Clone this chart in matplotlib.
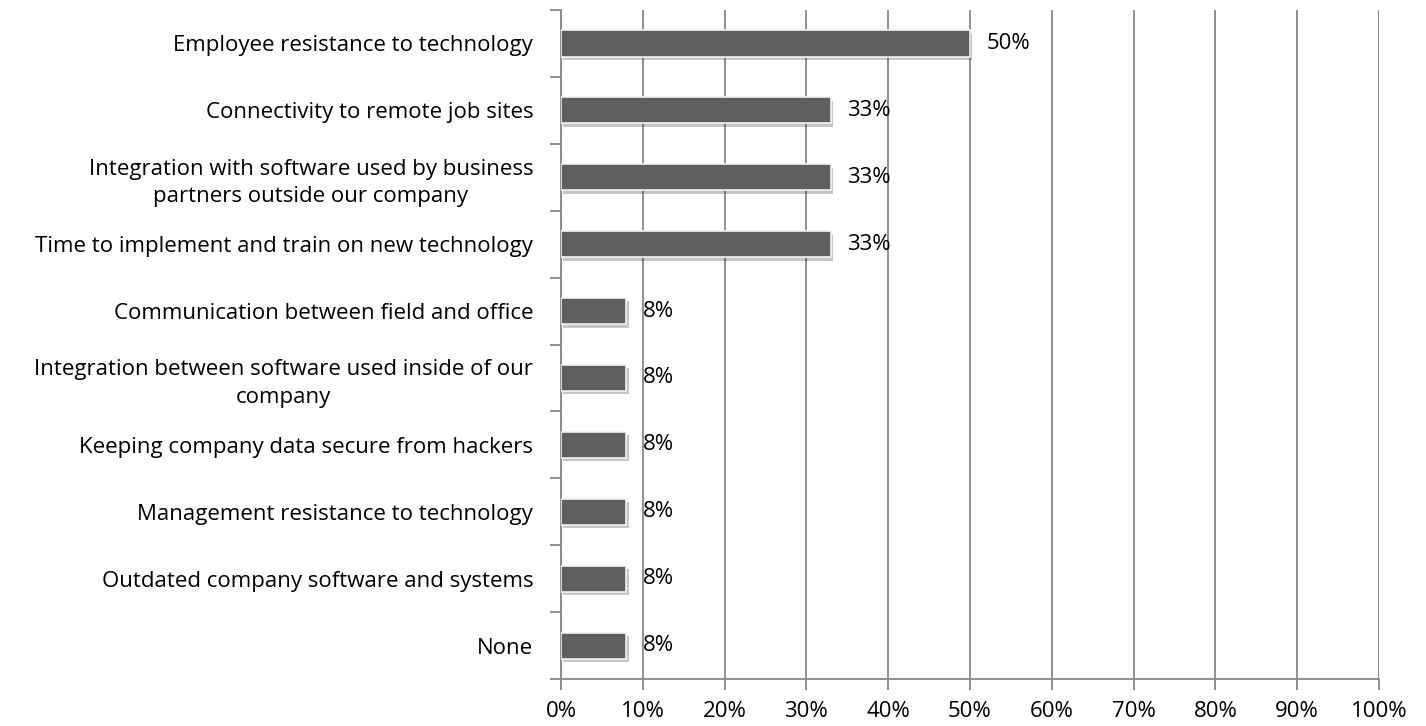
import numpy as np
import matplotlib.pyplot as plt
import matplotlib.patheffects as pe
from matplotlib.ticker import MultipleLocator, PercentFormatter

# 数据
categories = [
    "Employee resistance to technology",
    "Connectivity to remote job sites",
    "Integration with software used by business\npartners outside our company",
    "Time to implement and train on new technology",
    "Communication between field and office",
    "Integration between software used inside of our\ncompany",
    "Keeping company data secure from hackers",
    "Management resistance to technology",
    "Outdated company software and systems",
    "None",
]
values = [0.50, 0.33, 0.33, 0.33, 0.08, 0.08, 0.08, 0.08, 0.08, 0.08]
value_labels = ["50%", "33%", "33%", "33%", "8%", "8%", "8%", "8%", "8%", "8%"]

plt.rcParams['font.family'] = ['Open Sans', 'DejaVu Sans']
FS = 16

fig = plt.figure(figsize=(14.26, 7.26), dpi=100)
ax = fig.add_axes([0.3934, 0.0647, 0.5736, 0.9215])

y = np.arange(len(categories))
bars = ax.barh(y, values, height=0.39, color='#5f5f5f', edgecolor='#f2f2f2',
               linewidth=1.2, zorder=3)
for b in bars:
    b.set_path_effects([pe.SimplePatchShadow(offset=(1.5, -2.5), alpha=0.25),
                        pe.Normal()])

for yi, v, lab in zip(y, values, value_labels):
    ax.text(v + 0.02, yi, lab, va='center', ha='left', fontsize=FS,
            color='black', zorder=4)

ax.set_xlim(0, 1.0)
ax.set_ylim(len(categories) - 0.5, -0.5)
ax.xaxis.set_major_locator(MultipleLocator(0.1))
ax.xaxis.set_major_formatter(PercentFormatter(1.0, decimals=0))

ax.set_yticks(y)
ax.set_yticklabels(categories)
for lbl in ax.get_yticklabels():
    lbl.set_multialignment('center')
    lbl.set_linespacing(1.4)
ax.set_yticks(np.arange(-0.5, len(categories), 1.0), minor=True)

ax.tick_params(axis='y', which='major', length=0, pad=20, labelsize=FS)
ax.tick_params(axis='y', which='minor', length=8, width=1.3, color='#878787',
               direction='out')
ax.tick_params(axis='x', which='major', length=8, width=1.3, color='#878787',
               direction='out', pad=8, labelsize=FS)

ax.grid(True, axis='x', color='#878787', linewidth=1.3, zorder=0)
ax.set_axisbelow(True)

for s in ['top', 'right']:
    ax.spines[s].set_visible(False)
for s in ['left', 'bottom']:
    ax.spines[s].set_color('#878787')
    ax.spines[s].set_linewidth(1.3)

fig.savefig('out.png', dpi=100)
